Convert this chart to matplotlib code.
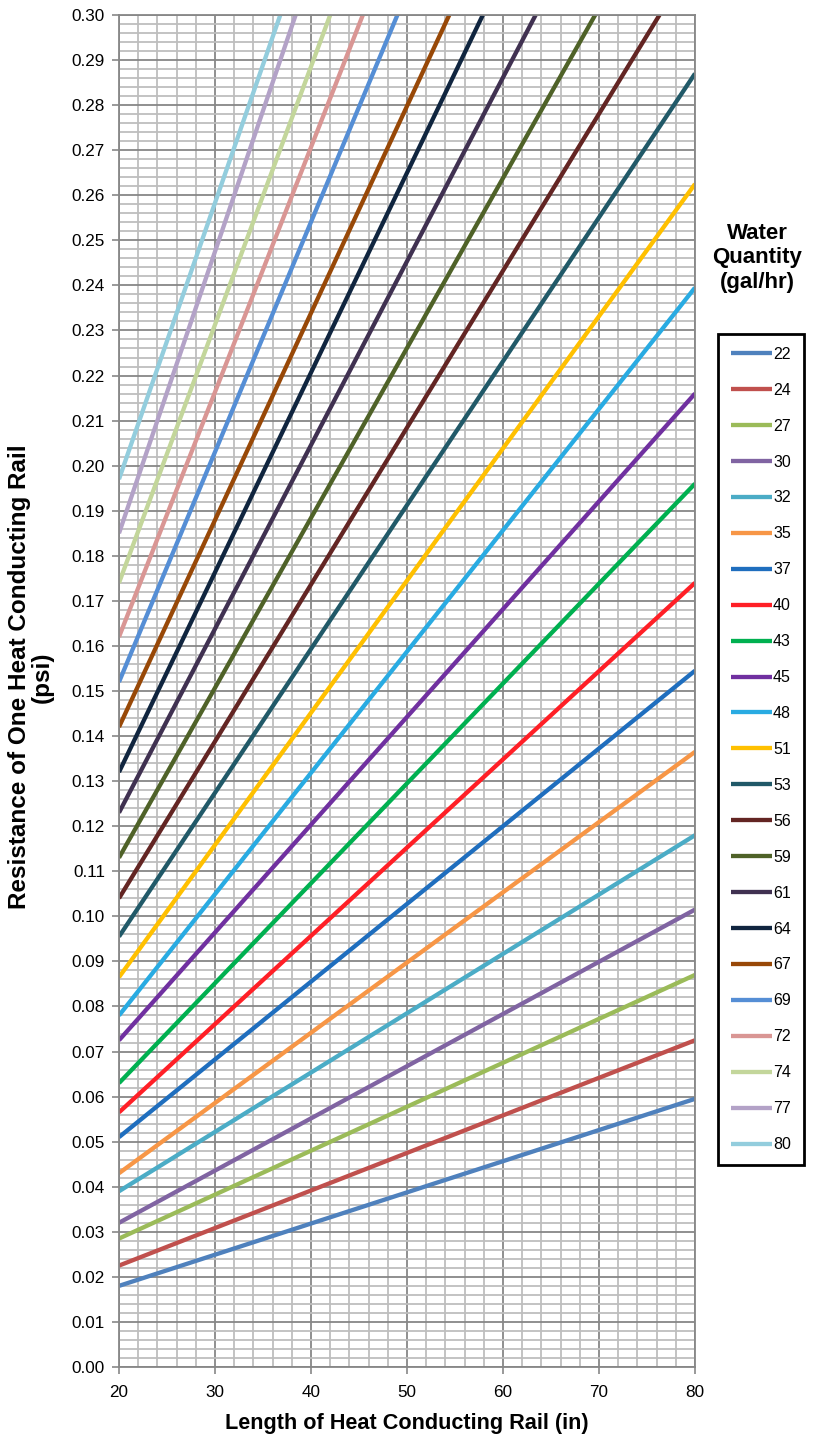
import numpy as np
import matplotlib
matplotlib.use("Agg")
import matplotlib.pyplot as plt

plt.rcParams['font.family'] = ['Liberation Sans', 'DejaVu Sans']

# water quantity (gal/hr) of each curve
flows = [22, 24, 27, 30, 32, 35, 37, 40, 43, 45, 48, 51,
         53, 56, 59, 61, 64, 67, 69, 72, 74, 77, 80]

# resistance (psi) at 20 in rail length
res_start = [0.0180, 0.0225, 0.0285, 0.0320, 0.0390, 0.0430, 0.0510, 0.0565,
             0.0630, 0.0725, 0.0780, 0.0865, 0.0955, 0.1040, 0.1130, 0.1230,
             0.1320, 0.1420, 0.1520, 0.1620, 0.1740, 0.1850, 0.1970]

# last visible point of each curve (length, resistance)
len_end = [80, 80, 80, 80, 80, 80, 80, 80, 80, 80, 80, 80, 80,
           76.3, 69.6, 63.4, 57.9, 54.4, 49.0, 45.4, 42.0, 38.4, 36.8]
res_end = [0.0595, 0.0725, 0.0870, 0.1015, 0.1180, 0.1365, 0.1545, 0.1740,
           0.1960, 0.2160, 0.2395, 0.2625, 0.2870,
           0.30, 0.30, 0.30, 0.30, 0.30, 0.30, 0.30, 0.30, 0.30, 0.30]

colors = ['#4F81BD', '#C0504D', '#9BBB59', '#8064A2', '#4BACC6', '#F79646',
          '#1F6EBE', '#FF1F26', '#00B050', '#7030A0', '#29ABE2', '#FFC000',
          '#215968', '#632523', '#4F6228', '#403151', '#10253F', '#984807',
          '#558ED5', '#D99694', '#C3D69B', '#B3A2C7', '#93CDDD']

fig = plt.figure(figsize=(8.14, 14.37), dpi=100)
ax = fig.add_axes([119 / 814, 1 - 1367 / 1437, 576 / 814, 1352 / 1437])

for q, y0, x1, y1, c in zip(flows, res_start, len_end, res_end, colors):
    ax.plot([20, x1], [y0, y1], color=c, lw=3.1, label=str(q),
            solid_capstyle='butt')

ax.set_xlim(20, 80)
ax.set_ylim(0, 0.30)
ax.set_xticks(np.arange(20, 81, 10))
ax.set_xticks(np.arange(20, 81, 2), minor=True)
ax.set_yticks(np.arange(0, 0.3001, 0.01))
ax.set_yticks(np.arange(0, 0.3001, 0.002), minor=True)
ax.yaxis.set_major_formatter(matplotlib.ticker.FormatStrFormatter('%.2f'))

ax.grid(which='minor', color='#BEBEBE', lw=1.3)
ax.grid(which='major', color='#878787', lw=1.3)
ax.set_axisbelow(True)
ax.tick_params(which='major', direction='out', length=5, width=1.2,
               color='#878787', labelsize=12.3, labelcolor='black')
ax.tick_params(axis='x', pad=8)
ax.tick_params(axis='y', pad=5)
ax.tick_params(which='minor', length=0)
for s in ax.spines.values():
    s.set_color('#878787')
    s.set_linewidth(1.3)

fig.text(407 / 814, 1 - 1423 / 1437, 'Length of Heat Conducting Rail (in)',
         ha='center', va='center', fontsize=15.6, fontweight='bold')
fig.text(31 / 814, 1 - 677 / 1437,
         'Resistance of One Heat Conducting Rail\n(psi)',
         ha='center', va='center', rotation=90, fontsize=17.5,
         fontweight='bold', linespacing=0.95)

fig.text(757 / 814, 1 - 258 / 1437, 'Water\nQuantity\n(gal/hr)',
         ha='center', va='center', fontsize=16, fontweight='bold',
         linespacing=1.2)

leg = ax.legend(loc='upper left', bbox_to_anchor=(718 / 814, 1 - 334 / 1437),
                bbox_transform=fig.transFigure, borderaxespad=0,
                fontsize=11.5, handlelength=2.6, handletextpad=0.05,
                labelspacing=1.31, borderpad=0.8, fancybox=False,
                framealpha=1)
leg.get_frame().set_edgecolor('black')
leg.get_frame().set_linewidth(2)

fig.savefig('out.png', dpi=100)
